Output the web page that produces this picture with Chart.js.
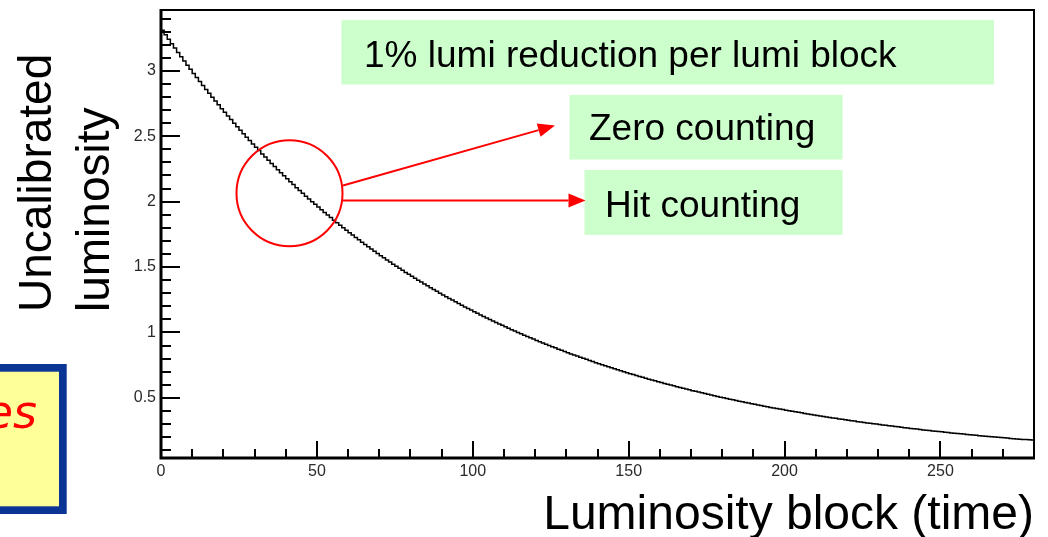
<!DOCTYPE html>
<html>
<head>
<meta charset="utf-8">
<title>Uncalibrated luminosity vs luminosity block</title>
<script src="https://cdn.jsdelivr.net/npm/chart.js@4"></script>
<style>
  html, body { margin: 0; padding: 0; background: #fff; overflow: hidden; }
  #wrap { position: relative; width: 1048px; height: 537px; }
</style>
</head>
<body>
<div id="wrap"><canvas id="lumi" width="1048" height="537"></canvas></div>
<script>
// Uncalibrated luminosity per lumi block (one bin per block, blocks 0..279)
const lumiValues = [
  3.310, 3.275, 3.241, 3.207, 3.174, 3.141, 3.108, 3.075, 3.043, 3.012,
  2.980, 2.949, 2.918, 2.888, 2.858, 2.828, 2.798, 2.769, 2.740, 2.711,
  2.683, 2.655, 2.627, 2.600, 2.573, 2.546, 2.519, 2.493, 2.467, 2.441,
  2.416, 2.390, 2.365, 2.341, 2.316, 2.292, 2.268, 2.244, 2.221, 2.198,
  2.175, 2.152, 2.130, 2.107, 2.085, 2.064, 2.042, 2.021, 2.000, 1.979,
  1.958, 1.938, 1.917, 1.897, 1.878, 1.858, 1.838, 1.819, 1.800, 1.781,
  1.763, 1.744, 1.726, 1.708, 1.690, 1.673, 1.655, 1.638, 1.621, 1.604,
  1.587, 1.571, 1.554, 1.538, 1.522, 1.506, 1.490, 1.475, 1.459, 1.444,
  1.429, 1.414, 1.399, 1.385, 1.370, 1.356, 1.342, 1.328, 1.314, 1.300,
  1.287, 1.273, 1.260, 1.247, 1.234, 1.221, 1.208, 1.195, 1.183, 1.171,
  1.158, 1.146, 1.134, 1.122, 1.111, 1.099, 1.088, 1.076, 1.065, 1.054,
  1.043, 1.032, 1.021, 1.011, 1.000, 0.990, 0.979, 0.969, 0.959, 0.949,
  0.939, 0.929, 0.919, 0.910, 0.900, 0.891, 0.882, 0.872, 0.863, 0.854,
  0.845, 0.836, 0.828, 0.819, 0.811, 0.802, 0.794, 0.785, 0.777, 0.769,
  0.761, 0.753, 0.745, 0.737, 0.730, 0.722, 0.715, 0.707, 0.700, 0.692,
  0.685, 0.678, 0.671, 0.664, 0.657, 0.650, 0.643, 0.637, 0.630, 0.623,
  0.617, 0.610, 0.604, 0.598, 0.592, 0.585, 0.579, 0.573, 0.567, 0.561,
  0.555, 0.550, 0.544, 0.538, 0.533, 0.527, 0.522, 0.516, 0.511, 0.505,
  0.500, 0.495, 0.490, 0.485, 0.479, 0.474, 0.470, 0.465, 0.460, 0.455,
  0.450, 0.446, 0.441, 0.436, 0.432, 0.427, 0.423, 0.418, 0.414, 0.410,
  0.405, 0.401, 0.397, 0.393, 0.389, 0.385, 0.381, 0.377, 0.373, 0.369,
  0.365, 0.361, 0.357, 0.354, 0.350, 0.346, 0.343, 0.339, 0.336, 0.332,
  0.329, 0.325, 0.322, 0.318, 0.315, 0.312, 0.308, 0.305, 0.302, 0.299,
  0.296, 0.293, 0.290, 0.287, 0.284, 0.281, 0.278, 0.275, 0.272, 0.269,
  0.266, 0.264, 0.261, 0.258, 0.255, 0.253, 0.250, 0.247, 0.245, 0.242,
  0.240, 0.237, 0.235, 0.232, 0.230, 0.228, 0.225, 0.223, 0.220, 0.218,
  0.216, 0.214, 0.211, 0.209, 0.207, 0.205, 0.203, 0.201, 0.198, 0.196,
  0.194, 0.192, 0.190, 0.188, 0.186, 0.184, 0.182, 0.181, 0.179, 0.177
];

// Axis ranges and ticks
const blockRange = [0, 280];
const lumiRange = [0.04, 3.465];
const xTickValues = [0, 50, 100, 150, 200, 250];
const xTickLabels = ['0', '50', '100', '150', '200', '250'];
const yTickValues = [0.5, 1, 1.5, 2, 2.5, 3];
const yTickLabels = ['0.5', '1', '1.5', '2', '2.5', '3'];
const xMinorStep = 10;
const yMinorStep = 0.1;

// Texts
const xTitle = 'Luminosity block (time)';
const yTitleLines = ['Uncalibrated', 'luminosity'];
const noteTitle = '1% lumi reduction per lumi block';
const noteZero = 'Zero counting';
const noteHit = 'Hit counting';
const sideNote = 'es';

const FONT = "'Liberation Sans', Arial, Helvetica, sans-serif";

// Histogram outline: one point at each bin's low edge, closed at the last edge
const stepPoints = lumiValues.map((v, i) => ({ x: blockRange[0] + i, y: v }));
stepPoints.push({ x: blockRange[0] + lumiValues.length, y: lumiValues[lumiValues.length - 1] });

// ROOT-style frame with inward major and minor ticks
const frameTicks = {
  id: 'frameTicks',
  afterDraw(chart) {
    const { ctx, chartArea: a, scales: { x, y } } = chart;
    ctx.save();
    ctx.strokeStyle = '#000';
    ctx.lineCap = 'butt';
    ctx.lineWidth = 2;

    // minor + major ticks on y
    const nY = Math.round(lumiRange[1] / yMinorStep);
    for (let k = 1; k <= nY; k++) {
      const v = +(k * yMinorStep).toFixed(3);
      if (v < lumiRange[0] || v > lumiRange[1]) continue;
      const py = Math.round(y.getPixelForValue(v));
      const major = yTickValues.some(t => Math.abs(t - v) < 1e-6);
      const len = major ? 19 : 10;
      ctx.beginPath();
      ctx.moveTo(a.left, py);
      ctx.lineTo(a.left + len, py);
      ctx.stroke();
    }
    // minor + major ticks on x
    for (let v = blockRange[0] + xMinorStep; v < blockRange[1]; v += xMinorStep) {
      const px = Math.round(x.getPixelForValue(v));
      const major = xTickValues.includes(v);
      const len = major ? 17 : 9;
      ctx.beginPath();
      ctx.moveTo(px, a.bottom);
      ctx.lineTo(px, a.bottom - len);
      ctx.stroke();
    }

    // frame
    ctx.lineWidth = 2;
    ctx.beginPath();
    ctx.moveTo(a.left, a.top);
    ctx.lineTo(a.right, a.top);
    ctx.lineTo(a.right, a.bottom);
    ctx.stroke();
    ctx.lineWidth = 3;
    ctx.beginPath();
    ctx.moveTo(a.left, a.top - 1);
    ctx.lineTo(a.left, a.bottom);
    ctx.lineTo(a.right + 1, a.bottom);
    ctx.stroke();
    ctx.restore();
  }
};

function arrow(ctx, x0, y0, x1, y1, headLen, headHalf) {
  const ang = Math.atan2(y1 - y0, x1 - x0);
  const bx = x1 - headLen * Math.cos(ang);
  const by = y1 - headLen * Math.sin(ang);
  ctx.beginPath();
  ctx.moveTo(x0, y0);
  ctx.lineTo(bx, by);
  ctx.stroke();
  ctx.beginPath();
  ctx.moveTo(x1, y1);
  ctx.lineTo(bx + headHalf * Math.sin(ang), by - headHalf * Math.cos(ang));
  ctx.lineTo(bx - headHalf * Math.sin(ang), by + headHalf * Math.cos(ang));
  ctx.closePath();
  ctx.fill();
}

// Slide annotations drawn over the plot
const annotations = {
  id: 'annotations',
  afterDraw(chart) {
    const ctx = chart.ctx;
    ctx.save();

    // notes in green boxes
    ctx.fillStyle = '#ccffcc';
    ctx.fillRect(341.5, 20, 652.5, 64.5);
    ctx.fillRect(569.5, 95, 273, 64.5);
    ctx.fillRect(584.5, 170, 258, 65);
    ctx.fillStyle = '#000';
    ctx.font = '37px ' + FONT;
    ctx.textAlign = 'left';
    ctx.textBaseline = 'alphabetic';
    ctx.fillText(noteTitle, 364, 66.5);
    ctx.fillText(noteZero, 589, 140);
    ctx.fillText(noteHit, 605, 216.5);

    // highlighted region of the curve and arrows
    ctx.strokeStyle = '#ff0000';
    ctx.fillStyle = '#ff0000';
    ctx.lineWidth = 2;
    ctx.beginPath();
    ctx.arc(289.5, 193.3, 53, 0, Math.PI * 2);
    ctx.stroke();
    arrow(ctx, 343, 185.5, 555, 125.5, 17, 7);
    arrow(ctx, 342.5, 200.5, 585.5, 200.5, 17, 7);

    // y-axis title, two lines reading upwards
    ctx.fillStyle = '#000';
    ctx.font = '46px ' + FONT;
    ctx.textAlign = 'left';
    ctx.textBaseline = 'alphabetic';
    [[51, yTitleLines[0]], [109, yTitleLines[1]]].forEach(([bx, t]) => {
      ctx.save();
      ctx.translate(bx, 312);
      ctx.rotate(-Math.PI / 2);
      ctx.fillText(t, 0, 0);
      ctx.restore();
    });

    // side note box at the left edge
    ctx.fillStyle = '#0a3594';
    ctx.fillRect(-10, 364, 76.7, 150);
    ctx.fillStyle = '#ffff99';
    ctx.fillRect(-10, 371.7, 69, 134.6);
    ctx.fillStyle = '#ff0000';
    ctx.font = 'italic 46px "DejaVu Sans", sans-serif';
    ctx.textAlign = 'right';
    ctx.fillText(sideNote, 37, 428);

    ctx.restore();
  }
};

new Chart(document.getElementById('lumi'), {
  type: 'line',
  data: {
    datasets: [{
      data: stepPoints,
      stepped: 'before',
      borderColor: '#000',
      borderWidth: 1.5,
      pointRadius: 0,
      fill: false,
      tension: 0
    }]
  },
  options: {
    responsive: false,
    animation: false,
    devicePixelRatio: 1,
    layout: { padding: { top: 10, right: 14, left: 0, bottom: 0 } },
    plugins: { legend: { display: false }, tooltip: { enabled: false } },
    scales: {
      x: {
        type: 'linear',
        min: blockRange[0],
        max: blockRange[1],
        grid: { display: false, drawTicks: false, tickLength: 0 },
        border: { display: false },
        afterFit: s => { s.height = 79; s.paddingLeft = 0; s.paddingRight = 0; },
        afterBuildTicks: s => { s.ticks = xTickValues.map(v => ({ value: v })); },
        ticks: {
          autoSkip: false,
          maxRotation: 0,
          padding: 4,
          color: '#2a2a2a',
          font: { family: FONT, size: 16 },
          callback: v => { const i = xTickValues.indexOf(v); return i >= 0 ? xTickLabels[i] : ''; }
        },
        title: {
          display: true,
          text: xTitle,
          align: 'end',
          color: '#000',
          font: { family: FONT, size: 48, lineHeight: 1 },
          padding: { top: 0, bottom: -3 }
        }
      },
      y: {
        type: 'linear',
        min: lumiRange[0],
        max: lumiRange[1],
        grid: { display: false, drawTicks: false, tickLength: 0 },
        border: { display: false },
        afterFit: s => { s.width = 161; s.paddingTop = 0; s.paddingBottom = 0; },
        afterBuildTicks: s => { s.ticks = yTickValues.map(v => ({ value: v })); },
        ticks: {
          autoSkip: false,
          padding: 5,
          color: '#2a2a2a',
          font: { family: FONT, size: 16 },
          callback: v => { const i = yTickValues.indexOf(v); return i >= 0 ? yTickLabels[i] : ''; }
        }
      }
    }
  },
  plugins: [frameTicks, annotations]
});
</script>
</body>
</html>
